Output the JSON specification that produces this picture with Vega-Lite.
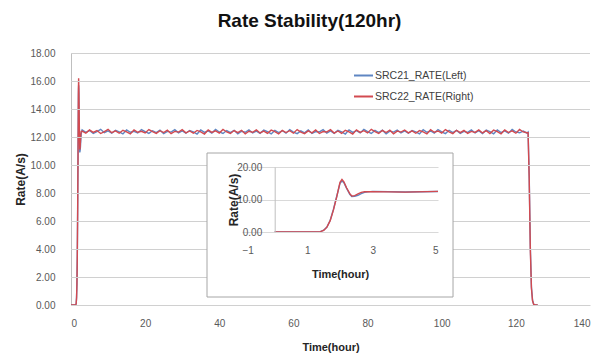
{
"$schema": "https://vega.github.io/schema/vega-lite/v6.json",
"autosize": "none",
"width": 519,
"height": 252,
"padding": {"left": 71, "top": 53, "right": 18, "bottom": 51},
"background": "white",
"config": {"view": {"stroke": null}, "font": "Liberation Sans"},
"title": {"text": "Rate Stability(120hr)", "font": "Liberation Sans", "fontSize": 19, "fontWeight": "bold", "color": "#111111", "offset": 17, "dx": -21},
"datasets": {
"rate": [
{"t":0,"L":0,"R":0},{"t":0.5,"L":0,"R":0},{"t":1.0,"L":0,"R":0},{"t":1.3,"L":0.02,"R":0.02},{"t":1.4,"L":0.12,"R":0.1},{"t":1.5,"L":0.55,"R":0.5},{"t":1.6,"L":1.5,"R":1.5},{"t":1.7,"L":3.6,"R":3.5},{"t":1.8,"L":7.0,"R":6.8},{"t":1.9,"L":11.0,"R":10.8},{"t":2.0,"L":15.0,"R":15.3},{"t":2.06,"L":15.7,"R":16.2},{"t":2.12,"L":15.2,"R":15.4},{"t":2.2,"L":13.5,"R":13.6},{"t":2.3,"L":11.6,"R":11.8},{"t":2.36,"L":10.9,"R":11.1},{"t":2.45,"L":11.0,"R":11.2},{"t":2.55,"L":11.3,"R":11.7},{"t":2.65,"L":11.8,"R":12.2},{"t":2.75,"L":12.2,"R":12.4},{"t":2.85,"L":12.35,"R":12.4},
{"t":3,"L":12.51,"R":12.42},{"t":4,"L":12.33,"R":12.28},{"t":5,"L":12.46,"R":12.51},{"t":6,"L":12.25,"R":12.33},{"t":7,"L":12.39,"R":12.46},{"t":8,"L":12.55,"R":12.25},{"t":9,"L":12.31,"R":12.39},{"t":10,"L":12.44,"R":12.55},{"t":11,"L":12.27,"R":12.31},{"t":12,"L":12.48,"R":12.44},
{"t":13,"L":12.36,"R":12.27},{"t":14,"L":12.22,"R":12.48},{"t":15,"L":12.50,"R":12.36},{"t":16,"L":12.34,"R":12.22},{"t":17,"L":12.41,"R":12.50},{"t":18,"L":12.29,"R":12.34},{"t":19,"L":12.53,"R":12.41},{"t":20,"L":12.38,"R":12.29},{"t":21,"L":12.26,"R":12.53},{"t":22,"L":12.45,"R":12.38},
{"t":23,"L":12.32,"R":12.26},{"t":24,"L":12.49,"R":12.45},{"t":25,"L":12.24,"R":12.32},{"t":26,"L":12.40,"R":12.49},{"t":27,"L":12.35,"R":12.24},{"t":28,"L":12.52,"R":12.40},{"t":29,"L":12.30,"R":12.35},{"t":30,"L":12.43,"R":12.52},{"t":31,"L":12.27,"R":12.30},{"t":32,"L":12.47,"R":12.43},
{"t":33,"L":12.37,"R":12.27},{"t":34,"L":12.21,"R":12.47},{"t":35,"L":12.50,"R":12.37},{"t":36,"L":12.33,"R":12.21},{"t":37,"L":12.44,"R":12.50},{"t":38,"L":12.28,"R":12.33},{"t":39,"L":12.54,"R":12.44},{"t":40,"L":12.36,"R":12.28},{"t":41,"L":12.25,"R":12.54},{"t":42,"L":12.46,"R":12.36},
{"t":43,"L":12.31,"R":12.25},{"t":44,"L":12.48,"R":12.46},{"t":45,"L":12.23,"R":12.31},{"t":46,"L":12.41,"R":12.48},{"t":47,"L":12.34,"R":12.23},{"t":48,"L":12.51,"R":12.41},{"t":49,"L":12.29,"R":12.34},{"t":50,"L":12.42,"R":12.51},{"t":51,"L":12.26,"R":12.29},{"t":52,"L":12.49,"R":12.42},
{"t":53,"L":12.38,"R":12.26},{"t":54,"L":12.22,"R":12.49},{"t":55,"L":12.47,"R":12.38},{"t":56,"L":12.32,"R":12.22},{"t":57,"L":12.45,"R":12.47},{"t":58,"L":12.27,"R":12.32},{"t":59,"L":12.53,"R":12.45},{"t":60,"L":12.35,"R":12.27},{"t":61,"L":12.24,"R":12.53},{"t":62,"L":12.44,"R":12.35},
{"t":63,"L":12.30,"R":12.24},{"t":64,"L":12.50,"R":12.44},{"t":65,"L":12.25,"R":12.30},{"t":66,"L":12.39,"R":12.50},{"t":67,"L":12.36,"R":12.25},{"t":68,"L":12.52,"R":12.39},{"t":69,"L":12.28,"R":12.36},{"t":70,"L":12.43,"R":12.52},{"t":71,"L":12.26,"R":12.28},{"t":72,"L":12.48,"R":12.43},
{"t":73,"L":12.37,"R":12.26},{"t":74,"L":12.21,"R":12.48},{"t":75,"L":12.51,"R":12.37},{"t":76,"L":12.33,"R":12.21},{"t":77,"L":12.45,"R":12.51},{"t":78,"L":12.29,"R":12.33},{"t":79,"L":12.55,"R":12.45},{"t":80,"L":12.38,"R":12.29},{"t":81,"L":12.25,"R":12.55},{"t":82,"L":12.47,"R":12.38},
{"t":83,"L":12.32,"R":12.25},{"t":84,"L":12.49,"R":12.47},{"t":85,"L":12.23,"R":12.32},{"t":86,"L":12.42,"R":12.49},{"t":87,"L":12.35,"R":12.23},{"t":88,"L":12.50,"R":12.42},{"t":89,"L":12.30,"R":12.35},{"t":90,"L":12.44,"R":12.50},{"t":91,"L":12.27,"R":12.30},{"t":92,"L":12.46,"R":12.44},
{"t":93,"L":12.36,"R":12.27},{"t":94,"L":12.22,"R":12.46},{"t":95,"L":12.52,"R":12.36},{"t":96,"L":12.34,"R":12.22},{"t":97,"L":12.43,"R":12.52},{"t":98,"L":12.28,"R":12.34},{"t":99,"L":12.53,"R":12.43},{"t":100,"L":12.37,"R":12.28},{"t":101,"L":12.24,"R":12.53},{"t":102,"L":12.48,"R":12.37},
{"t":103,"L":12.31,"R":12.24},{"t":104,"L":12.47,"R":12.48},{"t":105,"L":12.26,"R":12.31},{"t":106,"L":12.40,"R":12.47},{"t":107,"L":12.33,"R":12.26},{"t":108,"L":12.51,"R":12.40},{"t":109,"L":12.29,"R":12.33},{"t":110,"L":12.45,"R":12.51},{"t":111,"L":12.25,"R":12.29},{"t":112,"L":12.49,"R":12.45},
{"t":113,"L":12.38,"R":12.25},{"t":114,"L":12.23,"R":12.49},{"t":115,"L":12.50,"R":12.38},{"t":116,"L":12.32,"R":12.23},{"t":117,"L":12.44,"R":12.50},{"t":118,"L":12.27,"R":12.32},{"t":119,"L":12.54,"R":12.44},{"t":120,"L":12.36,"R":12.27},{"t":121,"L":12.30,"R":12.54},{"t":122,"L":12.42,"R":12.36},
{"t":123,"L":12.28,"R":12.30},
{"t":123.3,"L":12.35,"R":12.3},{"t":123.6,"L":9.2,"R":9.0},{"t":123.9,"L":4.2,"R":4.0},{"t":124.2,"L":1.3,"R":1.2},{"t":124.5,"L":0.35,"R":0.3},{"t":124.8,"L":0.06,"R":0.05},{"t":125.2,"L":0,"R":0},{"t":125.9,"L":0,"R":0}
],
"ticksy": [{"g": 0}, {"g": 2}, {"g": 4}, {"g": 6}, {"g": 8}, {"g": 10}, {"g": 12}, {"g": 14}, {"g": 16}, {"g": 18}],
"box": [{"x1": 36.69, "x2": 103.05, "y1": 0.571, "y2": 10.857}]
},
"layer": [
{"data": {"name": "rate"},
 "transform": [{"fold": ["L", "R"], "as": ["s", "v"]}],
 "mark": {"type": "line", "strokeWidth": 1.4},
 "encoding": {
  "x": {"field": "t", "type": "quantitative", "scale": {"domain": [0, 140], "nice": false, "zero": false},
        "axis": {"orient": "bottom", "values": [0,20,40,60,80,100,120,140], "format": "d", "grid": false, "ticks": false, "domain": true, "domainColor": "#D0D0D0", "labelPadding": 13, "labelFont": "Liberation Sans", "labelFontSize": 10, "labelColor": "#595959", "labelOverlap": false, "title": "Time(hour)", "titleFont": "Liberation Sans", "titleFontSize": 11, "titleFontWeight": "bold", "titleColor": "#262626", "titlePadding": 13}},
  "y": {"field": "v", "type": "quantitative", "scale": {"domain": [0, 18], "nice": false},
        "axis": {"orient": "left", "values": [0,2,4,6,8,10,12,14,16,18], "format": ".2f", "grid": false, "ticks": false, "domain": true, "domainColor": "#BFBFBF", "labelPadding": 16, "labelFont": "Liberation Sans", "labelFontSize": 10, "labelColor": "#595959", "labelOverlap": false, "title": "Rate(A/s)", "titleFont": "Liberation Sans", "titleFontSize": 12, "titleFontWeight": "bold", "titleColor": "#262626", "titlePadding": 2}},
  "color": {"field": "s", "type": "nominal", "scale": {"domain": ["L", "R"], "range": ["#5F86C2", "#D24A50"]},
        "legend": {"orient": "none", "legendX": 282, "legendY": 12, "title": null, "padding": 0, "symbolType": "stroke", "symbolSize": 361, "symbolStrokeWidth": 2, "labelFont": "Liberation Sans", "labelFontSize": 10.5, "labelColor": "#404040", "labelOffset": 1, "rowPadding": 5, "labelExpr": "datum.label == 'L' ? 'SRC21_RATE(Left)' : 'SRC22_RATE(Right)'"}}
 }},
{"data": {"name": "ticksy"},
 "mark": {"type": "rule", "stroke": "#D0D0D0", "strokeWidth": 1, "yOffset": 0.5},
 "encoding": {
  "x": {"datum": 0, "type": "quantitative", "scale": {"domain": [0, 140], "nice": false, "zero": false}, "axis": null},
  "x2": {"datum": 140},
  "y": {"field": "g", "type": "quantitative", "scale": {"domain": [0, 18], "nice": false}, "axis": null}
 }},
{"data": {"name": "box"},
 "mark": {"type": "rect", "fill": "white", "stroke": "#A6A6A6", "strokeWidth": 1},
 "encoding": {
  "x": {"field": "x1", "type": "quantitative", "scale": {"domain": [0, 140], "nice": false, "zero": false}, "axis": null},
  "x2": {"field": "x2"},
  "y": {"field": "y1", "type": "quantitative", "scale": {"domain": [0, 18], "nice": false}, "axis": null},
  "y2": {"field": "y2"}
 }},
{"data": {"name": "rate"},
 "transform": [{"filter": "datum.t <= 5"}, {"fold": ["L", "R"], "as": ["s", "v"]}],
 "mark": {"type": "line", "strokeWidth": 1.4},
 "encoding": {
  "x": {"field": "t", "type": "quantitative", "scale": {"domain": [-1, 5], "range": [171, 367], "nice": false, "zero": false},
        "axis": {"orient": "bottom", "offset": -73, "values": [-1, 1, 3, 5], "format": "d", "grid": false, "ticks": false, "domain": false, "labelPadding": 13, "labelFont": "Liberation Sans", "labelFontSize": 10, "labelColor": "#595959", "labelOverlap": false, "title": "Time(hour)", "titleFont": "Liberation Sans", "titleFontSize": 11, "titleFontWeight": "bold", "titleColor": "#262626", "titlePadding": 13, "zindex": 1}},
  "y": {"field": "v", "type": "quantitative", "scale": {"domain": [0, 20], "range": [179, 114], "nice": false},
        "axis": {"orient": "left", "offset": -203.7, "values": [0, 10, 20], "format": ".2f", "grid": true, "gridColor": "#D9D9D9", "ticks": false, "domain": true, "domainColor": "#BFBFBF", "labelPadding": 13, "labelFont": "Liberation Sans", "labelFontSize": 10, "labelColor": "#595959", "labelOverlap": false, "title": "Rate(A/s)", "titleFont": "Liberation Sans", "titleFontSize": 12, "titleFontWeight": "bold", "titleColor": "#262626", "titlePadding": -4, "zindex": 1}},
  "color": {"field": "s", "type": "nominal", "legend": null}
 }}
],
"resolve": {"scale": {"x": "independent", "y": "independent"}}
}
